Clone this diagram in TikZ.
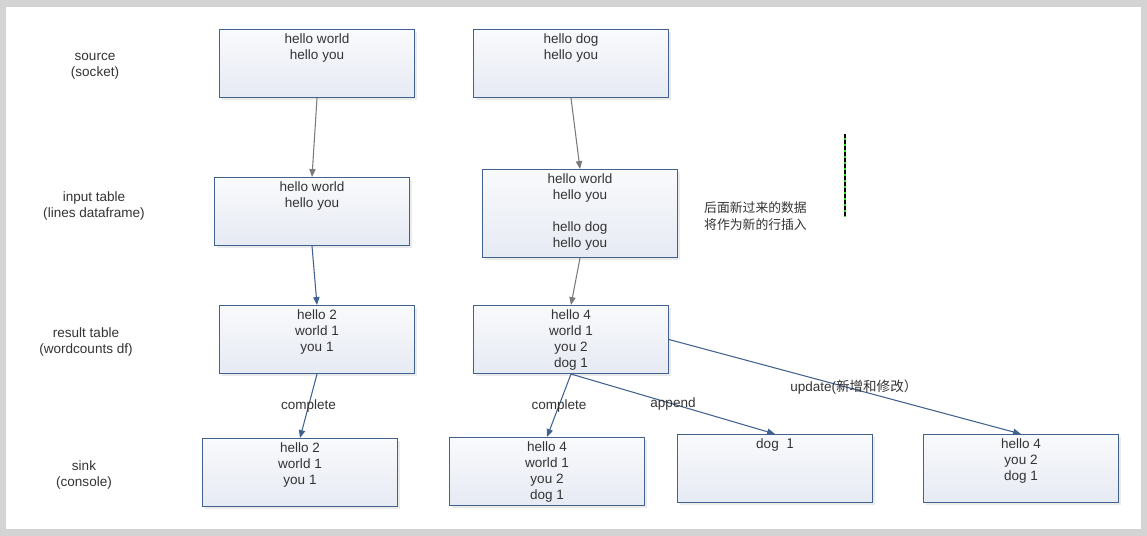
\documentclass[tikz,border=0pt]{standalone}
\usepackage{fontspec}
\setmainfont{Liberation Sans}
\newfontfamily\cjk{Noto Sans CJK SC}
\usepackage{tikz}
\usetikzlibrary{arrows.meta,shadows}
\definecolor{ink}{HTML}{333333}
\definecolor{rim}{HTML}{41618F}
\definecolor{flow}{HTML}{7A7A7A}
\definecolor{page}{HTML}{D4D4D4}
\definecolor{topc}{HTML}{F9FAFC}
\definecolor{botc}{HTML}{E6EAF3}
\definecolor{guide}{HTML}{2EDB2E}
\newcommand\cells[1]{\begin{tabular}[t]{@{}c@{}}#1\end{tabular}}
\tikzset{
  tbl/.style={draw=rim, line width=0.6pt, top color=topc, bottom color=botc,
    minimum width=3.9cm, inner sep=0pt, text height=0.28cm, text depth=1.08cm,
    anchor=north west,
    drop shadow={shadow xshift=1.2pt, shadow yshift=-1.2pt, fill=black, opacity=0.08}},
  tall/.style={text depth=1.48cm},
  feed/.style={draw=flow, line width=0.6pt, -{Triangle[length=4.5pt,width=3.6pt]}},
  push/.style={draw=rim, line width=0.6pt, -{Triangle[length=4.5pt,width=3.6pt]}},
  stage/.style={align=center},
  every node/.style={text=ink, font=\fontsize{7.7}{9.07}\selectfont}
}
\begin{document}
\begin{tikzpicture}[x=0.02cm, y=-0.02cm]
  \useasboundingbox (0,0) rectangle (1147,536);
  \fill[page] (0,0) rectangle (1147,536);
  \fill[white] (6,7) rectangle (1141,529);

  % row captions
  \node[stage] (lsrc) at (95,66) {source\\(socket)};
  \node[stage] (lin) at (94,206) {input table\\(lines dataframe)};
  \node[stage] (lres) at (86,342) {result table\\(wordcounts df)};
  \node[stage] (lsink) at (84,475) {sink\\(console)};

  % tables
  \node[tbl] (src1) at (219,29) {\cells{hello world\\hello you}};
  \node[tbl] (src2) at (473,29) {\cells{hello dog\\hello you}};
  \node[tbl] (in1) at (214,177) {\cells{hello world\\hello you}};
  \node[tbl,tall] (in2) at (482,169) {\cells{hello world\\hello you\\ \\hello dog\\hello you}};
  \node[tbl] (res1) at (219,305) {\cells{hello 2\\world 1\\you 1}};
  \node[tbl] (res2) at (473,305) {\cells{hello 4\\world 1\\you 2\\dog 1}};
  \node[tbl] (sink1) at (202,438) {\cells{hello 2\\world 1\\you 1}};
  \node[tbl] (sink2) at (449,437) {\cells{hello 4\\world 1\\you 2\\dog 1}};
  \node[tbl] (sink3) at (677,434) {\cells{dog\ \ {\cjk 1}}};
  \node[tbl] (sink4) at (923,434) {\cells{hello 4\\you 2\\dog 1}};

  \node[align=left, anchor=west, font=\cjk\fontsize{7.3}{9.6}\selectfont] (note) at (698,216)
    {后面新过来的数据\\将作为新的行插入};

  % marker line
  \coordinate (mtop) at (845,134);
  \coordinate (mbot) at (845,217);
  \draw[guide, line width=0.6pt] (mtop) -- (mbot);
  \draw[black, line width=0.6pt, dash pattern=on 2.2pt off 1.2pt] (mtop) -- (mbot);

  % flows
  \draw[feed] (src1.south) -- (in1.north);
  \draw[feed] (src2.south) -- (in2.north);
  \draw[push] (in1.south) -- (res1.north);
  \draw[feed] (in2.south) -- (res2.north);
  \draw[push] (res1.south) -- node {complete} (sink1.north);
  \draw[push] (res2.south) -- node {complete} (sink2.north);
  \draw[push] (res2.south) -- node {append} (sink3.north);
  \draw[push] (res2.east) -- node[xshift=5pt] {update({\cjk 新增和修改）}} (sink4.north);
\end{tikzpicture}
\end{document}
